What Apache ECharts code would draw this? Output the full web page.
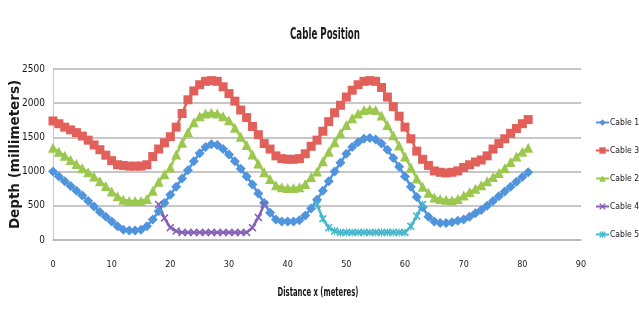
<!DOCTYPE html>
<html>
<head>
<meta charset="utf-8">
<script src="https://cdn.jsdelivr.net/npm/echarts@6/dist/echarts.min.js"></script>
<style>
  html, body { margin: 0; padding: 0; background: #ffffff; }
  #chart { width: 639px; height: 320px; }
</style>
</head>
<body>
<div id="chart"></div>
<script>
// Distance along the run (metres) for the three long cables
const distance = [0,1,2,3,4,5,6,7,8,9,10,11,12,13,14,15,16,17,18,19,20,21,22,23,24,25,26,27,28,29,30,31,32,33,34,35,36,37,38,39,40,41,42,43,44,45,46,47,48,49,50,51,52,53,54,55,56,57,58,59,60,61,62,63,64,65,66,67,68,69,70,71,72,73,74,75,76,77,78,79,80,81];

// Depths in millimetres
const cable1 = [1000,930,860,790,720,650,570,490,410,340,270,200,150,140,140,150,200,300,420,540,660,780,900,1020,1150,1270,1360,1400,1390,1330,1250,1150,1040,930,810,680,540,400,300,270,270,270,290,360,460,590,720,860,1000,1130,1260,1360,1430,1480,1490,1470,1410,1320,1200,1070,930,780,630,480,340,270,250,250,260,280,300,340,390,440,500,570,640,710,780,850,920,990];
const cable3 = [1740,1700,1650,1610,1570,1520,1460,1390,1320,1240,1160,1100,1090,1080,1080,1080,1100,1220,1330,1420,1510,1650,1850,2050,2180,2270,2320,2330,2320,2240,2140,2030,1900,1790,1660,1540,1410,1330,1230,1190,1180,1180,1190,1260,1370,1460,1590,1730,1860,1970,2090,2190,2270,2320,2330,2320,2230,2090,1950,1810,1650,1480,1300,1180,1090,1010,990,980,990,1010,1060,1100,1140,1170,1230,1330,1410,1480,1560,1630,1700,1760];
const cable2 = [1350,1290,1230,1170,1110,1050,990,930,860,790,710,640,590,570,570,570,600,720,850,960,1060,1250,1420,1580,1720,1810,1850,1860,1850,1810,1750,1640,1510,1390,1250,1120,990,890,800,770,760,760,770,820,920,1000,1150,1290,1430,1560,1680,1780,1850,1900,1910,1900,1820,1680,1530,1380,1220,1060,900,780,690,620,600,590,580,600,650,700,750,800,860,920,980,1050,1140,1220,1290,1350];

// The two short cables lying on the bottom
const distance4 = [18,19,20,21,22,23,24,25,26,27,28,29,30,31,32,33,34,35,36];
const cable4 = [520,320,180,130,110,110,110,110,110,110,110,110,110,110,110,110,180,330,520];
const distance5 = [45,46,47,48,49,50,51,52,53,54,55,56,57,58,59,60,61,62,63];
const cable5 = [520,310,180,130,110,110,110,110,110,110,110,110,110,110,110,110,200,350,520];

// Axis ticks
const xTicks = { min: 0, max: 90, step: 10 };
const yTicks = { min: 0, max: 2500, step: 500 };

// Pick a condensed face when one is installed, otherwise fall back to Roboto
const probe = document.createElement('canvas').getContext('2d');
function hasFont(name) {
  const s = 'Cable Position 0123456789';
  probe.font = '20px monospace';
  const a = probe.measureText(s).width;
  probe.font = '20px "' + name + '", monospace';
  return probe.measureText(s).width !== a;
}
function textWidth(text, font) {
  probe.font = font;
  return probe.measureText(text).width;
}
const condensed = ['Liberation Sans Narrow', 'DejaVu Sans Condensed', 'Roboto Condensed'].find(hasFont);
const NARROW = condensed ? '"' + condensed + '", Roboto, sans-serif' : 'Roboto, sans-serif';
const tickSize = condensed ? 10 : 8.5;
const legendSize = condensed ? 8.5 : 7.5;

// Headings are squeezed horizontally to the narrow look of the original typeface
const titleText = 'Cable Position';
const titleFont = 'bold 15px ' + NARROW;
const titleScale = Math.min(1, 70 / textWidth(titleText, titleFont));
const xNameText = 'Distance x (meteres)';
const xNameFont = 'bold 12px ' + NARROW;
const xNameScale = Math.min(1, 81 / textWidth(xNameText, xNameFont));

const pairs = (xs, ys) => xs.map((x, i) => [x, ys[i]]);

const crossPath = 'path://M0,1.4L1.4,0L5,3.6L8.6,0L10,1.4L6.4,5L10,8.6L8.6,10L5,6.4L1.4,10L0,8.6L3.6,5Z';
const starPath = 'path://M0,1.4L1.4,0L5,3.6L8.6,0L10,1.4L6.4,5L10,8.6L8.6,10L5,6.4L1.4,10L0,8.6L3.6,5Z M4.3,0L5.7,0L5.7,10L4.3,10Z';

function lineSeries(name, data, color, symbol, size) {
  return {
    name: name,
    type: 'line',
    data: data,
    symbol: symbol,
    symbolSize: size,
    showSymbol: true,
    lineStyle: { color: color, width: 2.5 },
    itemStyle: { color: color, borderWidth: 0 },
    emphasis: { disabled: true },
    animation: false
  };
}

const chart = echarts.init(document.getElementById('chart'), null, { renderer: 'canvas' });
chart.setOption({
  backgroundColor: '#ffffff',
  animation: false,
  graphic: [
    {
      type: 'text', x: 325, y: 35, scaleX: titleScale, silent: true,
      style: { text: titleText, font: titleFont, fill: '#1a1a1a', align: 'center', verticalAlign: 'middle' }
    },
    {
      type: 'text', x: 318, y: 293, scaleX: xNameScale, silent: true,
      style: { text: xNameText, font: xNameFont, fill: '#1a1a1a', align: 'center', verticalAlign: 'middle' }
    }
  ],
  grid: { left: 53, right: 58, top: 69, bottom: 80, containLabel: false },
  legend: {
    orient: 'vertical',
    left: 595,
    top: 118,
    padding: 0,
    itemGap: 19,
    itemWidth: 13,
    itemHeight: 8,
    textStyle: {
      fontFamily: NARROW, fontSize: legendSize, color: '#1a1a1a',
      width: 40, overflow: 'none', padding: [0, 0, 0, -4]
    },
    data: ['Cable 1', 'Cable 3', 'Cable 2', 'Cable 4', 'Cable 5']
  },
  xAxis: {
    type: 'value',
    min: xTicks.min,
    max: xTicks.max,
    interval: xTicks.step,
    axisLine: { show: true, lineStyle: { color: '#b8b8b8', width: 1.5 } },
    axisTick: { show: false },
    axisLabel: { margin: 20, fontFamily: NARROW, fontSize: 9, color: '#1a1a1a', formatter: v => String(v) },
    splitLine: { show: false }
  },
  yAxis: {
    type: 'value',
    min: yTicks.min,
    max: yTicks.max,
    interval: yTicks.step,
    name: 'Depth (millimeters)',
    nameLocation: 'middle',
    nameRotate: 90,
    nameGap: 31,
    nameMoveOverlap: false,
    nameTextStyle: { fontFamily: '"DejaVu Sans", sans-serif', fontSize: 13.5, fontWeight: 'bold', color: '#1a1a1a' },
    axisLine: { show: true, lineStyle: { color: '#c8c8c8', width: 1 } },
    axisTick: { show: false },
    axisLabel: { margin: 8, fontFamily: NARROW, fontSize: tickSize, color: '#1a1a1a', formatter: v => String(v) },
    splitLine: { show: true, lineStyle: { color: '#b4b4b4', width: 1.5 } }
  },
  series: [
    lineSeries('Cable 1', pairs(distance, cable1), '#4f94dc', 'diamond', 10),
    lineSeries('Cable 3', pairs(distance, cable3), '#e2605a', 'rect', 9),
    lineSeries('Cable 2', pairs(distance, cable2), '#9cc84f', 'triangle', 10),
    lineSeries('Cable 4', pairs(distance4, cable4), '#8660b4', crossPath, 8),
    lineSeries('Cable 5', pairs(distance5, cable5), '#45b6cc', starPath, 8)
  ]
});
</script>
</body>
</html>
